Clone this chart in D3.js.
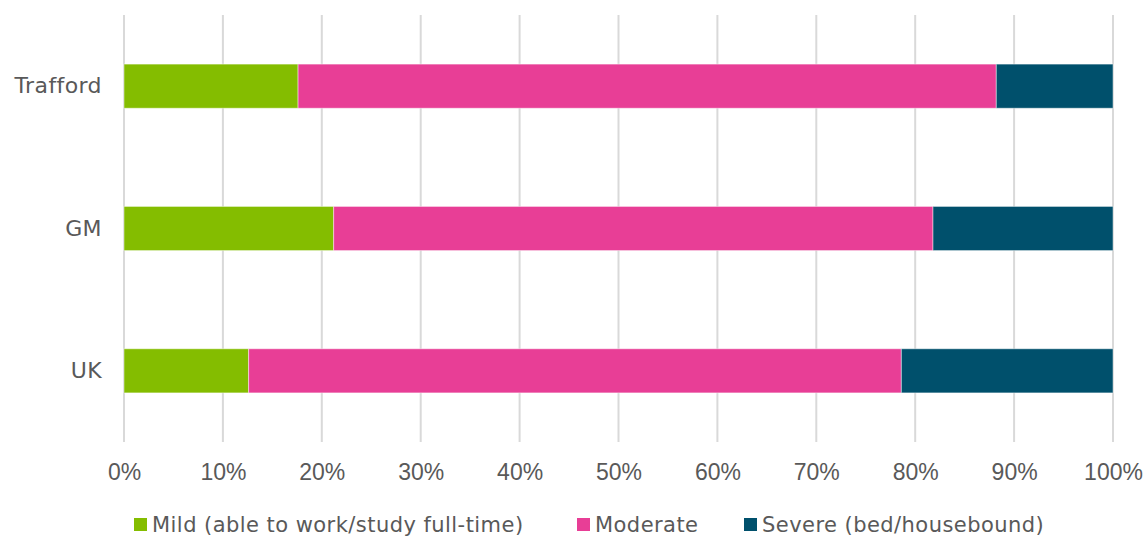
<!DOCTYPE html>
<html><head><meta charset="utf-8">
<script src="https://cdn.jsdelivr.net/npm/d3@7"></script>
<style>
body{margin:0;background:#fff;}
svg text{font-family:"DejaVu Sans",sans-serif;fill:#595959;}
</style></head>
<body><svg id="c" width="1143" height="538"></svg>
<script>
const categories = ["Trafford","GM","UK"];
const seriesNames = ["Mild (able to work/study full-time)","Moderate","Severe (bed/housebound)"];
const mild = [17.6, 21.2, 12.6];
const moderate = [70.6, 60.6, 66.0];
const severe = [11.8, 18.2, 21.4];
const tickValues = [0,10,20,30,40,50,60,70,80,90,100];
const colors = ["#84BD00","#E83E96","#00506C"];

const svg = d3.select("#c");
const x = d3.scaleLinear().domain([0,100]).range([124,1113]);
const y = d3.scaleBand().domain(categories).range([15,442]).paddingInner(0.69).paddingOuter(0.345);

// gridlines
svg.append("g").selectAll("line").data(tickValues).join("line")
  .attr("x1",d=>x(d)).attr("x2",d=>x(d)).attr("y1",15).attr("y2",442)
  .attr("stroke","#d9d9d9").attr("stroke-width",2);

const rows = categories.map((c,i)=>({cat:c, Mild:mild[i], Moderate:moderate[i], Severe:severe[i]}));
const keys = ["Mild","Moderate","Severe"];
const stacked = d3.stack().keys(keys)(rows);

svg.append("g").selectAll("g").data(stacked).join("g")
  .attr("fill",(d,i)=>colors[i])
  .selectAll("rect").data(d=>d).join("rect")
  .attr("x",d=>x(d[0])).attr("width",d=>x(d[1])-x(d[0]))
  .attr("y",d=>y(d.data.cat)).attr("height",y.bandwidth())
  .attr("stroke","rgba(255,255,255,0.45)").attr("stroke-width",1);

// x axis labels
const xa = svg.append("g").attr("transform","translate(0,442)")
  .call(d3.axisBottom(x).tickValues(tickValues).tickFormat(d=>d+"%").tickSize(0).tickPadding(22));
xa.select(".domain").remove();
xa.selectAll("text").style("font-size","23px").style("font-family","'Liberation Sans Narrow',sans-serif").attr("fill","#595959");

// y axis labels
const ya = svg.append("g").attr("transform","translate(124,0)")
  .call(d3.axisLeft(y).tickSize(0).tickPadding(22));
ya.select(".domain").remove();
ya.selectAll("text").style("font-size","22px").style("letter-spacing","0.4px").attr("dy","0.32em")
  .style("font-family","'DejaVu Sans',sans-serif").attr("fill","#595959");

// legend
const legX = [134, 577, 744];
const lg = svg.append("g").selectAll("g").data(seriesNames).join("g")
  .attr("transform",(d,i)=>`translate(${legX[i]},518)`);
lg.append("rect").attr("width",13).attr("height",13).attr("fill",(d,i)=>colors[i]);
lg.append("text").attr("x",18).attr("y",14).style("font-size","21px").style("letter-spacing","0.45px").text(d=>d);
</script></body></html>
